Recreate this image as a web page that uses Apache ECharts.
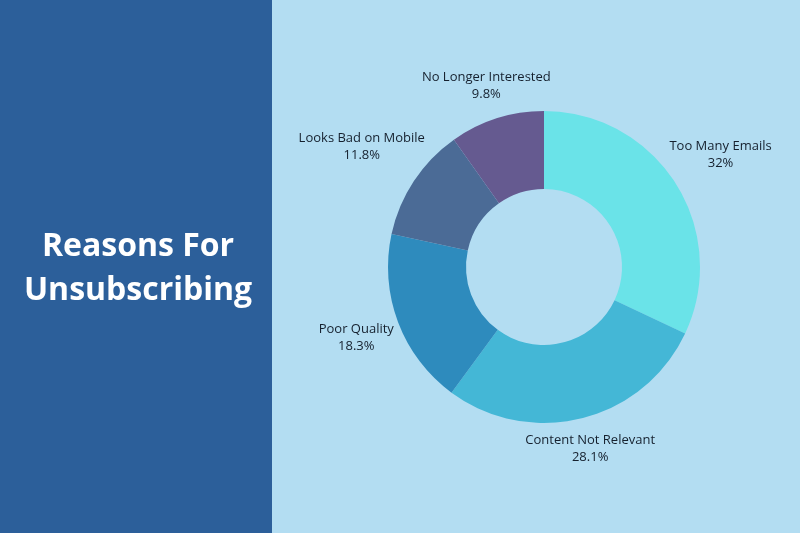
<!DOCTYPE html>
<html><head><meta charset="utf-8">
<script src="https://cdn.jsdelivr.net/npm/echarts@6/dist/echarts.min.js"></script>
<style>html,body{margin:0;padding:0;background:#B3DDF2}#c{width:800px;height:533px}</style>
</head><body><div id="c"></div>
<script>
const categories = ['Too Many Emails','Content Not Relevant','Poor Quality','Looks Bad on Mobile','No Longer Interested'];
const values = [32, 28.1, 18.3, 11.8, 9.8];
const valueLabels = ['32%','28.1%','18.3%','11.8%','9.8%'];
const colors = ['#6AE3E8','#44B7D6','#2E8BBD','#4B6B96','#655A90'];

const CX = 544, CY = 267, R_IN = 78, R_OUT = 156, GAP = 9;
const total = values.reduce((a,b)=>a+b,0);
const midAngles = [];
let acc = 0;
values.forEach(v => { midAngles.push((acc + v/2)/total*2*Math.PI); acc += v; });

const chart = echarts.init(document.getElementById('c'));
chart.setOption({
  backgroundColor: '#B3DDF2',
  animation: false,
  graphic: [{type:'rect', left:0, top:0, shape:{width:272, height:533}, style:{fill:'#2C5F9A'}, z:0}],
  title: {
    text: 'Reasons For\nUnsubscribing',
    left: 133, top: 220, textAlign: 'center',
    textStyle: {color:'#FFFFFF', fontSize:32, fontWeight:'bold', fontFamily:'Open Sans', lineHeight:44}
  },
  series: [{
    type: 'pie',
    center: [CX, CY],
    radius: [R_IN, R_OUT],
    startAngle: 90,
    clockwise: true,
    avoidLabelOverlap: false,
    data: categories.map((n,i)=>({name:n, value:values[i], itemStyle:{color:colors[i]}})),
    label: {
      show: true, position: 'outside',
      formatter: p => p.name + '\n' + valueLabels[p.dataIndex],
      color: '#15202E', fontSize: 13, fontFamily: 'Open Sans', lineHeight: 17, align: 'center'
    },
    labelLine: {show: false},
    labelLayout: function (p) {
      const a = midAngles[p.dataIndex];
      const s = Math.sin(a), c = Math.cos(a);
      const hw = p.labelRect.width/2, hh = p.labelRect.height/2;
      const d = R_OUT + GAP + Math.sqrt((hw*s)*(hw*s) + (hh*c)*(hh*c));
      return {x: CX + d*s, y: CY - d*c, align:'center', verticalAlign:'middle'};
    }
  }]
});
</script></body></html>
